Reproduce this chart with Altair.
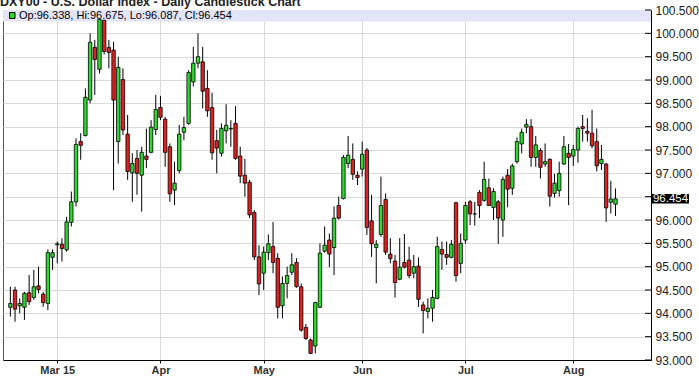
import altair as alt
import pandas as pd

# ---- Data (DXY daily, Feb 16 2015 .. Aug 14 2015, one value per trading day) ----
opens = [94.13, 94.50, 94.16, 94.13, 94.44, 94.34, 94.59, 94.41, 94.21, 95.20,
         95.47, 95.48, 95.36, 95.95, 96.39, 97.68, 97.81, 98.57, 99.70, 99.23,
         100.28, 99.70, 99.64, 97.68, 99.01, 97.84, 97.01, 97.32, 96.96, 97.37,
         97.45, 97.94, 98.41, 98.16, 97.57, 96.64, 97.06, 97.88, 98.07, 98.96,
         99.36, 99.39, 98.82, 98.41, 97.70, 97.43, 97.91, 97.96, 98.07, 97.37,
         96.96, 96.81, 96.16, 95.21, 94.86, 95.30, 95.43, 95.18, 94.16, 94.64,
         94.88, 95.09, 94.57, 93.70, 93.43, 93.30, 94.13, 95.33, 95.57, 95.41,
         96.31, 96.46, 97.21, 97.30, 96.96, 97.09, 97.50, 95.98, 95.41, 95.69,
         96.44, 95.27, 95.12, 94.73, 95.09, 95.14, 94.86, 95.01, 94.18, 94.04,
         94.11, 94.32, 95.37, 95.26, 95.20, 96.37, 95.07, 95.57, 96.39, 96.13,
         96.59, 96.42, 96.69, 96.27, 96.39, 96.00, 96.96, 96.68, 97.25, 97.63,
         97.99, 98.00, 97.34, 97.49, 97.20, 97.30, 96.57, 96.63, 97.20, 97.43,
         97.37, 97.50, 98.00, 97.90, 97.86, 97.68, 97.21, 97.20, 96.38, 96.338]
highs = [94.57, 94.57, 94.32, 94.46, 94.82, 94.93, 95.00, 94.46, 95.37, 95.37,
         95.54, 95.61, 96.07, 96.61, 97.75, 97.86, 98.82, 100.00, 99.86, 100.33,
         100.33, 99.86, 99.82, 99.50, 99.25, 98.25, 97.43, 97.50, 97.57, 97.96,
         98.14, 98.68, 98.66, 98.21, 97.64, 97.25, 98.04, 98.21, 99.21, 99.71,
         100.00, 99.71, 99.21, 98.73, 97.93, 98.07, 98.48, 98.14, 98.44, 97.57,
         97.31, 96.86, 96.21, 95.46, 95.43, 95.69, 95.96, 95.29, 94.79, 95.00,
         95.29, 95.18, 94.64, 93.77, 93.46, 94.25, 95.50, 95.86, 95.71, 96.29,
         96.50, 97.39, 97.80, 97.64, 97.04, 97.68, 97.54, 96.54, 95.57, 96.93,
         96.57, 95.61, 95.25, 95.61, 95.70, 95.43, 95.25, 95.20, 94.25, 94.32,
         94.50, 95.64, 95.54, 95.54, 95.57, 96.39, 95.71, 96.39, 96.43, 96.39,
         96.64, 97.25, 96.89, 96.68, 96.43, 96.93, 97.09, 97.21, 97.77, 97.96,
         98.16, 98.16, 97.80, 97.54, 97.64, 97.32, 96.99, 97.25, 97.80, 97.63,
         97.61, 98.00, 98.25, 98.18, 98.36, 97.96, 97.61, 97.22, 96.84, 96.675]
lows = [93.93, 93.82, 94.00, 93.86, 94.18, 94.29, 94.43, 94.14, 94.07, 94.93,
        95.07, 95.11, 95.32, 95.86, 96.29, 97.29, 97.79, 98.50, 98.68, 99.14,
        99.55, 99.25, 96.64, 97.21, 97.82, 96.86, 96.39, 96.54, 96.18, 97.11,
        97.43, 97.82, 98.14, 97.14, 96.39, 96.32, 97.00, 97.71, 98.04, 98.86,
        99.25, 98.39, 98.21, 97.29, 97.00, 97.36, 97.64, 97.57, 97.29, 96.79,
        96.50, 96.04, 95.14, 94.39, 94.50, 95.14, 94.86, 93.89, 93.89, 94.32,
        94.82, 94.55, 93.61, 93.43, 93.13, 93.14, 94.11, 95.30, 94.99, 94.82,
        96.01, 96.44, 97.11, 96.86, 96.75, 96.93, 95.68, 95.21, 94.64, 95.64,
        95.25, 95.07, 94.34, 94.71, 94.96, 94.75, 94.75, 94.14, 93.57, 93.89,
        93.82, 94.30, 94.93, 95.04, 95.18, 94.68, 94.86, 95.49, 95.89, 95.88,
        96.04, 96.39, 96.30, 96.00, 95.49, 95.64, 96.27, 96.54, 97.21, 97.43,
        97.86, 97.14, 97.14, 96.89, 97.14, 96.29, 96.48, 96.50, 97.18, 96.32,
        97.16, 97.23, 97.68, 97.68, 97.54, 97.04, 97.07, 95.96, 96.14, 96.087]
closes = [94.21, 94.09, 94.21, 94.43, 94.25, 94.57, 94.51, 94.23, 95.30, 95.30,
          95.49, 95.39, 95.96, 96.39, 97.62, 97.60, 98.63, 99.81, 99.44, 100.30,
          99.61, 99.59, 98.57, 99.27, 97.93, 97.04, 97.21, 97.00, 97.45, 97.30,
          97.99, 98.37, 98.20, 97.45, 96.56, 96.79, 97.84, 97.98, 99.16, 99.36,
          99.50, 98.76, 98.34, 97.44, 97.54, 97.96, 98.03, 97.95, 97.32, 96.94,
          96.79, 96.11, 95.21, 94.63, 95.31, 95.49, 95.09, 94.13, 94.64, 94.81,
          95.04, 94.57, 93.64, 93.46, 93.14, 94.23, 95.29, 95.46, 95.27, 96.04,
          96.04, 97.34, 97.39, 96.98, 96.91, 97.41, 95.84, 95.49, 95.48, 96.31,
          95.31, 95.17, 94.66, 94.99, 94.99, 94.81, 95.00, 94.30, 94.06, 94.11,
          94.34, 95.43, 95.27, 95.20, 95.48, 94.81, 95.50, 96.31, 96.13, 96.13,
          96.31, 96.87, 96.31, 96.61, 96.04, 96.87, 96.66, 97.16, 97.68, 97.88,
          98.05, 97.34, 97.61, 97.13, 97.25, 96.51, 96.79, 97.00, 97.57, 97.34,
          97.51, 97.96, 97.96, 97.86, 97.59, 97.16, 97.30, 96.26, 96.45, 96.454]

month_labels = ["Mar 15", "Apr", "May", "Jun", "Jul", "Aug"]
month_index = [10, 32, 54, 75, 97, 120]   # first trading day of each month
y_ticks = [93.0, 93.5, 94.0, 94.5, 95.0, 95.5, 96.0, 96.5, 97.0, 97.5,
           98.0, 98.5, 99.0, 99.5, 100.0, 100.5]
hidden_tick = 96.5   # label covered by the last-price marker
title_text = "DXY00 - U.S. Dollar Index - Daily Candlestick Chart"
legend_text = "Op:96.338, Hi:96.675, Lo:96.087, Cl:96.454"
last_close = closes[-1]

FONT = "Liberation Sans"
GREEN = "#2fd82f"
RED = "#e02020"

df = pd.DataFrame({"i": list(range(len(opens))), "open": opens, "high": highs,
                   "low": lows, "close": closes})
df["dir"] = ["up" if c >= o else "down" for o, c in zip(opens, closes)]

xscale = alt.Scale(domain=[-0.5, 135.5], nice=False, zero=False)
yscale = alt.Scale(domain=[93.0, 100.5], nice=False, zero=False)

label_expr = "{" + ",".join(f"'{p}':'{l}'" for p, l in zip(month_index, month_labels)) + "}[datum.value]"
y_label_expr = f"abs(datum.value - {hidden_tick}) < 0.001 ? '' : format(datum.value, '.3f')"

x_axis = alt.Axis(values=month_index, labelExpr=label_expr, grid=True, gridColor="#dadada",
                  domainColor="black", tickColor="black", tickSize=3, labelFont=FONT,
                  labelFontSize=11, labelFontWeight="bold", labelColor="#333333",
                  labelPadding=1, title=None, labelFlush=False, labelOverlap=False)
y_axis = alt.Axis(orient="right", values=y_ticks, labelExpr=y_label_expr, grid=True,
                  gridColor="#dadada", domainColor="black", ticks=False, labelFont=FONT,
                  labelFontSize=12, labelColor="#222222", labelPadding=4, title=None,
                  labelFlush=False, labelOverlap=False)

X = lambda f: alt.X(f, scale=xscale, axis=x_axis)
Y = lambda f: alt.Y(f, scale=yscale, axis=y_axis)

base = alt.Chart(df)

wicks = base.mark_rule(color="black", strokeWidth=1).encode(
    x=X("i:Q"), y=Y("low:Q"), y2="high:Q",
)

bodies = base.mark_bar(size=3.4, stroke="black", strokeWidth=0.8).encode(
    x=X("i:Q"), y=Y("open:Q"), y2="close:Q",
    color=alt.Color("dir:N", scale=alt.Scale(domain=["up", "down"], range=[GREEN, RED]), legend=None),
)

band = alt.Chart(pd.DataFrame({"k": [0]})).mark_rect(color="#e4e4f8").encode(
    x=alt.value(0), x2=alt.value(648), y=alt.value(0), y2=alt.value(11.5)
)

ytick_df = pd.DataFrame({"v": y_ticks})
inner_ticks = alt.Chart(ytick_df).mark_rule(color="black", strokeWidth=1).encode(
    y=Y("v:Q"), x=alt.value(642), x2=alt.value(648)
)

legend_sq = alt.Chart(pd.DataFrame({"k": [0]})).mark_rect(
    color=GREEN, stroke="black", strokeWidth=1).encode(
    x=alt.value(6.5), x2=alt.value(12), y=alt.value(2.5), y2=alt.value(8.5)
)
legend_txt = alt.Chart(pd.DataFrame({"t": [legend_text]})).mark_text(
    align="left", baseline="middle", font=FONT, fontSize=11, color="black").encode(
    text="t:N", x=alt.value(16), y=alt.value(6)
)

title_mark = alt.Chart(pd.DataFrame({"t": [title_text]})).mark_text(
    align="left", baseline="alphabetic", font=FONT, fontSize=12.5, fontWeight="bold",
    color="#222222").encode(text="t:N", x=alt.value(-3), y=alt.value(-4.5))

last_box = alt.Chart(pd.DataFrame({"k": [0]})).mark_rect(color="black").encode(
    x=alt.value(649), x2=alt.value(686), y=alt.value(184), y2=alt.value(193.5)
)
last_txt = alt.Chart(pd.DataFrame({"v": [last_close]})).mark_text(
    align="center", baseline="middle", font=FONT, fontSize=11.5, color="white").encode(
    text=alt.Text("v:Q", format=".3f"), x=alt.value(667.5), y=Y("v:Q")
)

chart = alt.layer(
    wicks, band, bodies, inner_ticks, legend_sq, legend_txt, title_mark, last_box, last_txt
).properties(
    width=648, height=350,
    autosize=alt.AutoSizeParams(type="none"),
    padding={"left": 3, "top": 10, "right": 48, "bottom": 22},
    background="white",
).configure_view(stroke="#555555", strokeWidth=1)

chart.save("out.html", embed_options={"renderer": "svg", "actions": False})
